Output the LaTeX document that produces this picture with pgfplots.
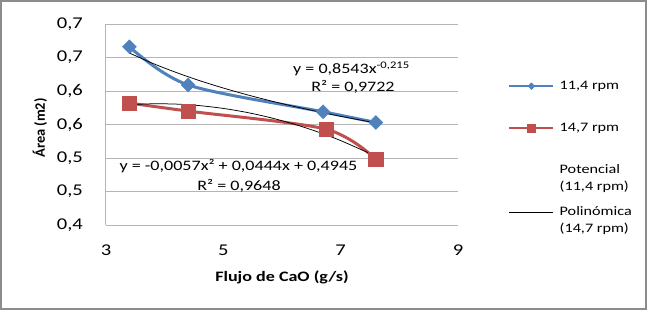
\documentclass[border=0pt]{standalone}
\usepackage{fontspec}
\setmainfont{Carlito}[FakeStretch=1.25]
\newfontfamily\plainfont{Carlito}
\usepackage{pgfplots}
\pgfplotsset{compat=1.18}
\definecolor{xblue}{HTML}{4F81BD}
\definecolor{xred}{HTML}{C0504D}
\definecolor{gridc}{HTML}{B4B4B4}
\definecolor{framec}{HTML}{8C8C8C}
\begin{document}
\begin{tikzpicture}
\path (-106bp,-88bp) rectangle (544bp,225bp);
\draw[framec, line width=2bp] (-104.5bp,-84bp) rectangle (539.5bp,223.5bp);
\begin{axis}[
 at={(0,0)}, anchor=south west,
 scale only axis, width=352bp, height=201bp,
 xmin=3, xmax=9, ymin=0.4, ymax=0.7,
 xtick={3,5,7,9}, xticklabels={3,5,7,9},
 ytick={0.4,0.45,0.5,0.55,0.6,0.65,0.7},
 yticklabels={{0,4},{0,5},{0,5},{0,6},{0,6},{0,7},{0,7}},
 axis x line*=bottom, axis y line*=left,
 axis line style={gridc, line width=1bp, -},
 ymajorgrids, grid style={gridc, line width=1bp},
 major tick length=0pt,
 tick label style={font=\fontsize{16.5}{18}\selectfont, inner sep=0pt},
 yticklabel style={anchor=east, xshift=-23bp},
 xticklabel style={anchor=north, yshift=-20bp},
 xlabel={Flujo de CaO (g/s)},
 xlabel style={font=\bfseries\fontsize{14.5}{16}\selectfont, at={(axis description cs:0.5,-0.281)}, anchor=base},
 ylabel={Área (m2)},
 ylabel style={font=\plainfont\bfseries\fontsize{14.5}{16}\selectfont, at={(axis description cs:-0.1875,0.483)}, anchor=center},
 legend style={at={(axis description cs:1.142,0.7214)}, anchor=north west, draw=none, fill=none, inner sep=0pt, row sep=30bp, cells={anchor=west}, nodes={inner sep=0pt, text height=9bp, text depth=3bp, font=\fontsize{13}{17}\selectfont}, /tikz/every odd column/.append style={column sep=5bp}},
 legend image code/.code={\draw[mark repeat=2,mark phase=2,#1] plot coordinates {(0bp,0bp) (22bp,0bp) (44bp,0bp)};},
]
\addplot[xblue, line width=3bp, smooth, mark=square*, mark size=4.9bp, mark options={rotate=45, solid, fill=xblue, draw=xblue, line width=0.5bp}, forget plot]
 coordinates {(3.4,0.666) (4.4,0.609) (6.7,0.569) (7.6,0.553)};
\addplot[xred, line width=3bp, smooth, mark=square*, mark size=7.2bp, mark options={solid, fill=xred, draw=xred, line width=0.5bp}, forget plot]
 coordinates {(3.4,0.582) (4.4,0.570) (6.75,0.543) (7.6,0.498)};
% power trendline (11,4 rpm)
\addplot[black, line width=0.75bp, smooth, forget plot] coordinates {
 (3.4,0.65665) (3.8,0.64112) (4.2,0.62754) (4.6,0.61530) (5.0,0.60442) (5.4,0.59449)
 (5.8,0.58543) (6.2,0.57710) (6.6,0.56939) (7.0,0.56223) (7.6,0.55238)};
% polynomial trendline (14,7 rpm)
\addplot[black, line width=0.75bp, smooth, forget plot] coordinates {
 (3.4,0.57957) (3.8,0.58091) (4.2,0.58043) (4.6,0.57813) (5.0,0.57400) (5.4,0.56805)
 (5.8,0.56027) (6.2,0.55067) (6.6,0.53925) (7.0,0.52600) (7.6,0.50271)};
\node[anchor=base, font=\fontsize{14.5}{16}\selectfont] at (axis cs:7.184,0.6254) {y = 0,8543x\textsuperscript{-0,215}};
\node[anchor=base, font=\fontsize{14.5}{16}\selectfont] at (axis cs:7.21,0.599) {R² = 0,9722};
\node[anchor=base, font=\fontsize{14.5}{16}\selectfont] at (axis cs:5.258,0.482) {y = -0,0057x² + 0,0444x + 0,4945};
\node[anchor=base, font=\fontsize{14.5}{16}\selectfont] at (axis cs:5.267,0.4522) {R² = 0,9648};
\addlegendimage{xblue, line width=2.5bp, mark=square*, mark size=2.4bp, mark options={rotate=45,solid,fill=xblue,draw=xblue,line width=0.4bp}}
\addlegendentry{11,4 rpm}
\addlegendimage{xred, line width=2.5bp, mark=square*, mark size=3.8bp, mark options={solid,fill=xred,draw=xred,line width=0.4bp}}
\addlegendentry{14,7 rpm}
\addlegendimage{draw opacity=0, white}
\addlegendentry{\begin{tabular}[t]{@{}l@{}}Potencial\\(11,4 rpm)\end{tabular}}
\addlegendimage{black, line width=0.75bp}
\addlegendentry{\begin{tabular}[t]{@{}l@{}}Polinómica\\(14,7 rpm)\end{tabular}}
\end{axis}
\end{tikzpicture}
\end{document}
